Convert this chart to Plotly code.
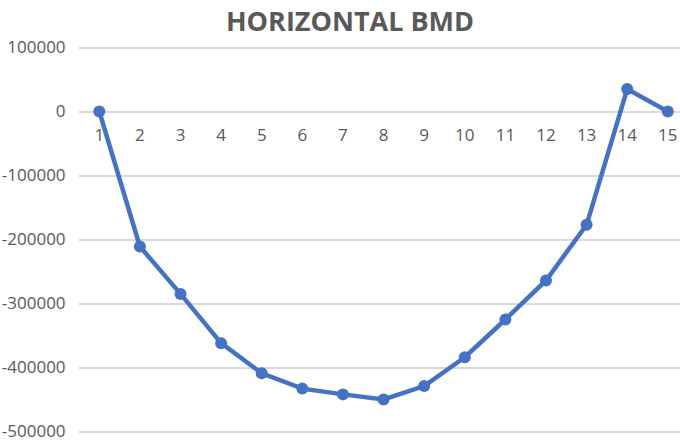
import plotly.graph_objects as go

# Horizontal bending moment along the section stations
stations = list(range(1, 16))
bmd_values = [0, -211000, -285000, -362000, -409000, -433000, -442000, -450000,
              -429000, -384000, -325000, -264000, -177000, 35000, 0]
y_ticks = [100000, 0, -100000, -200000, -300000, -400000, -500000]

W, H = 680, 442
# pixel rows of the 100000 and -500000 gridlines
top_px, bottom_px = 47.5, 431.5
tick_hi, tick_lo = 100000, -500000
y_lo, y_hi = -503000, 102000
px_per_unit = (bottom_px - top_px) / (tick_hi - tick_lo)
dom_top_px = top_px - (y_hi - tick_hi) * px_per_unit
dom_bot_px = bottom_px + (tick_lo - y_lo) * px_per_unit
zero_px = top_px + tick_hi * px_per_unit
zero_frac = (H - zero_px) / H

line_color = "#4472C4"
text_color = "#595959"
grid_color = "#D9D9D9"
font_family = "Open Sans, Liberation Sans, sans-serif"

fig = go.Figure()
fig.add_trace(go.Scatter(
    x=stations, y=bmd_values, mode="lines+markers",
    line=dict(color=line_color, width=4.5),
    marker=dict(color=line_color, size=12),
    showlegend=False, hoverinfo="x+y",
))

fig.update_layout(
    width=W, height=H,
    margin=dict(l=0, r=0, t=0, b=0, autoexpand=False),
    paper_bgcolor="white", plot_bgcolor="white",
    title=dict(text="<b>HORIZONTAL BMD</b>", x=350 / W, xanchor="center",
               y=1 - 22 / H, yanchor="middle",
               font=dict(family=font_family, size=27, color=text_color)),
    font=dict(family=font_family, color=text_color, size=17),
    xaxis=dict(
        domain=[79 / W, 1.0],
        range=[0.5, 15.3],
        tickmode="array", tickvals=stations, ticktext=[str(s) for s in stations],
        showgrid=False, zeroline=False, showline=False, automargin=False,
        anchor="free", position=zero_frac,
        ticks="outside", ticklen=8, tickcolor="rgba(0,0,0,0)",
        tickfont=dict(size=17, color=text_color),
        ticklabeloverflow="allow",
    ),
    yaxis=dict(
        domain=[(H - dom_bot_px) / H, (H - dom_top_px) / H],
        range=[y_lo, y_hi],
        tickmode="array", tickvals=y_ticks, ticktext=[str(v) for v in y_ticks],
        showgrid=True, gridcolor=grid_color, gridwidth=1.5,
        zeroline=False, showline=False, automargin=False,
        ticks="outside", ticklen=9, tickcolor="rgba(0,0,0,0)",
        tickfont=dict(size=17, color=text_color),
        ticklabeloverflow="allow",
    ),
)

fig.write_html("out.html")
